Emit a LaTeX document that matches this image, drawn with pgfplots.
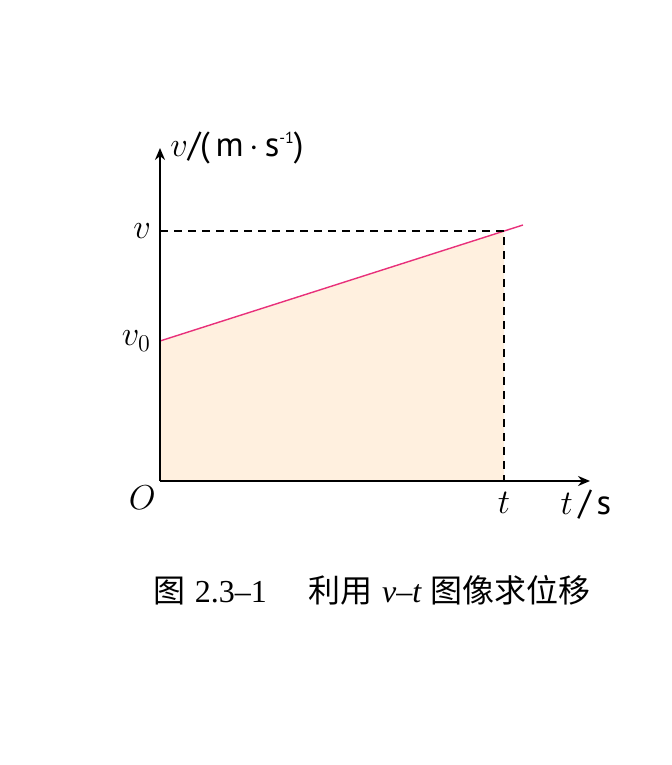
\documentclass[border=0pt]{standalone}
\usepackage{fontspec}
\usepackage{pgfplots}
\pgfplotsset{compat=1.18}
\usetikzlibrary{arrows.meta}
\newfontfamily\cjk{Noto Sans CJK SC}
\newfontfamily\unitfont{PT Sans}
\newfontfamily\capserif{Liberation Serif}
\definecolor{fillc}{HTML}{FFF0DF}
\definecolor{linec}{HTML}{E8307A}
\begin{document}
\begin{tikzpicture}
\begin{axis}[
  x=0.5pt, y=0.5pt,
  xmin=0, xmax=430, ymin=0, ymax=333,
  axis lines=left,
  axis on top,
  axis line style={line width=1pt, -{Stealth[length=6pt,width=5pt]}},
  clip=false,
  xtick={344}, xticklabels={$t$},
  ytick={140,250}, yticklabels={$v_0$,$v$},
  major tick length=0pt,
  tick label style={font=\LARGE},
  xticklabel style={yshift=-2pt},
  yticklabel style={xshift=-1pt},
]
\addplot[fill=fillc, draw=none] coordinates {(0,0) (0,140) (344,250) (344,0)} -- cycle;
\addplot[linec, line width=0.7pt] coordinates {(0,140) (363,256)};
\addplot[black, line width=0.6pt, dash pattern=on 4pt off 3pt] coordinates {(0,250) (344,250) (344,0)};
\node[anchor=north east, font=\LARGE, inner sep=2pt] at (axis cs:0,0) {$O$};
\node[anchor=west, font=\LARGE, inner sep=0pt] at (axis cs:10,333) {$v${\unitfont /(\,m\,}$\cdot${\unitfont\,s}\raisebox{0.9ex}{\unitfont\footnotesize -1}{\unitfont )}};
\node[font=\LARGE] at (axis cs:426,-24) {$t${\unitfont\,/\,s}};
\node[font=\fontsize{16}{18}\selectfont] at (axis cs:212,-109) {{\cjk 图} {\capserif 2.3–1}\hspace{1.3em}{\cjk 利用} {\capserif\itshape v}{\capserif –}{\capserif\itshape t} {\cjk 图像求位移}};
\coordinate (bl) at (axis cs:-160,-284);
\coordinate (tr) at (axis cs:512,481);
\end{axis}
\path (bl) rectangle (tr);
\end{tikzpicture}
\end{document}
